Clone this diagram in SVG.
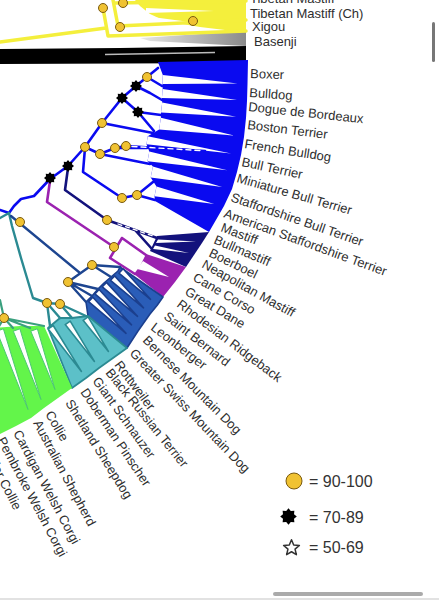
<svg xmlns="http://www.w3.org/2000/svg" width="439" height="600" viewBox="0 0 439 600">
<defs>
<style>
.lbl{font-family:"Liberation Sans",Arial,sans-serif;font-size:13px;fill:#2e2e2e}
.leg{font-family:"Liberation Sans",Arial,sans-serif;font-size:16px;fill:#333}
.ln{fill:none;stroke-linejoin:round;stroke-linecap:round}
.yl{stroke:#f4ef3c;stroke-width:3.5}
.bl{stroke:#0a0af0;stroke-width:2.6}
.nv{stroke:#13127c;stroke-width:2.6}
.pu{stroke:#9b22b0;stroke-width:2.6}
.mb{stroke:#1d4590;stroke-width:2.4}
.tl{stroke:#2b8a92;stroke-width:2.4}
.gl{stroke:#3aa07e;stroke-width:2.2}
.fbl{fill:#0a0af0}
.fnv{fill:#13127c}
.fpu{fill:#9b22b0}
.fmb{fill:#2a5db8;stroke:#1b3f8e;stroke-width:1.6;stroke-linejoin:round}
.ftl{fill:#5cc0c8;stroke:#2b8a92;stroke-width:1.8;stroke-linejoin:round}
.fgr{fill:#63f54a}
.wh{fill:#fff}
.wmb{fill:#fff;stroke:#1b3f8e;stroke-width:1.6;stroke-linejoin:round}
.wtl{fill:#fff;stroke:#2b8a92;stroke-width:1.6;stroke-linejoin:round}
.wgr{fill:#fff;stroke:#4cc870;stroke-width:1;stroke-linejoin:round}
.dot{fill:#f0c232;stroke:#7a5a10;stroke-width:1}
</style>
<linearGradient id="gg" x1="0" x2="1" y1="0" y2="0">
<stop offset="0" stop-color="#e8e8e8"/><stop offset="1" stop-color="#8a8a8a"/>
</linearGradient>
<polygon id="burst" points="1,0 0.665,0.276 0.707,0.707 0.276,0.665 0,1 -0.276,0.665 -0.707,0.707 -0.665,0.276 -1,0 -0.665,-0.276 -0.707,-0.707 -0.276,-0.665 0,-1 0.276,-0.665 0.707,-0.707 0.665,-0.276"/>
</defs>
<rect width="439" height="600" fill="#fff"/>

<g id="clade-yellow">
<polygon fill="#f4ef3c" points="135,0 246,0 246,32 225,30 200,27 165,21 150,14 140,6"/>
<polygon class="wh" points="146,8 146,13 214,11"/>
<polygon class="wh" points="152,17 158,24 190,22"/>
</g>
<g id="tip-basenji">
<polygon fill="url(#gg)" points="140,38 246,31 246,46 150,41"/>
<text class="lbl" x="254" y="46">Basenji</text>
</g>
<g id="clade-black">
<polygon fill="#000" points="0,49 120,48 246,46 246,63 0,64"/>
<line x1="105" y1="54.5" x2="215" y2="52.5" stroke="#bbb" stroke-width="1.5"/>
</g>

<g id="clade-blue">
<polygon class="fbl" points="158,62 248,60 247.5,84 247,101 246,118 244,137 241,155 237,172 232,189 224,206 209,232 155,201 154.5,196.3 156.5,186.5 150.7,177.4 152.9,166.6 147.5,161.2 149.3,151.4 146.5,144.2 147.7,136.3 159.1,129.6 160.9,117.8 161,112.6 162.2,102.6 161.9,98.1 162.7,89.1 162.4,84.1 162.8,75.1"/>
<polygon class="wh" points="162.8,75.1 162.4,84.1 237.5,83.5"/>
<polygon class="wh" points="162.7,89.1 161.9,98.1 237,100.1"/>
<polygon class="wh" points="162.2,102.6 161,112.6 236.1,116.8"/>
<polygon class="wh" points="160.9,117.8 159.1,129.6 234.1,135.4"/>
<polygon class="wh" points="147.7,136.3 146.5,144.2 231.1,153.4"/>
<polygon class="wh" points="149.3,151.4 147.5,161.2 227.2,170.3"/>
<polygon class="wh" points="152.9,166.6 150.7,177.4 222.2,186.9"/>
<polygon class="wh" points="156.5,186.5 154.5,196.3 214.2,203.9"/>
</g>
<g id="clade-navy">
<polygon class="fnv" points="157,236 209,232 202,243 194,255 186,267 150,251"/>
<polygon class="wh" points="158,239.5 156,243 196,241.5"/>
<polygon class="wh" points="155,245.5 153,249 189,253"/>
</g>
<g id="clade-purple">
<polygon class="fpu" points="146,254 186,267 175,282 163,297 134,274 140,266"/>
<polygon class="wh" points="143,261 137,269 169,277"/>
</g>
<g id="clade-midblue">
<polygon class="fmb" points="120,267 163,297 157,305.5 150,314 144,322.5 138,331 132.5,339.5 127,348 88,316 86,302 92,296 98,289 104,283 111,277 118,271"/>
<polygon class="wmb" points="123.1,268.8 118.9,273.2 150.5,299.3"/>
<polygon class="wmb" points="114.7,275.9 110.5,280.3 143.5,307.8"/>
<polygon class="wmb" points="106.5,282.4 102.3,286.8 137.5,316.3"/>
<polygon class="wmb" points="99.1,289.5 94.9,293.9 131.5,324.8"/>
<polygon class="wmb" points="92.8,297.3 88.6,301.7 126,333.3"/>
</g>
<g id="clade-teal">
<polygon class="ftl" points="48,328 60,318 72,318 88,316 127,348 113,358 99,368 86,378 72,388"/>
<polygon class="wtl" points="88.1,316.9 83.1,320.3 108.4,351.4"/>
<polygon class="wtl" points="70.2,321.2 65.2,324.6 94.4,361.4"/>
<polygon class="wtl" points="53.2,325.5 48.2,328.9 81.4,371.4"/>
</g>
<g id="clade-green">
<polygon class="fgr" points="-20,330 -5,328 20,326 44,326 72,388 58,398 44,408 31,418 16,426 0,434 -20,443"/>
<polygon class="wgr" points="37.4,328.8 30.8,331.2 55,389.5"/>
<polygon class="wgr" points="19.9,328.8 13.3,331.2 41,399.5"/>
<polygon class="wgr" points="3.4,328.8 -3.2,331.2 28,409.5"/>
</g>

<g id="connectors">
<path class="ln yl" d="M0,42 L106,28 M103,8 L108,36 L246,31 M113,0 L118,26 L246,20 M114,3 L246,1"/>
<path class="ln bl" d="M0,210 L9,213 M9,213 L14,206 L21,199 L34,196 L50,179 L68,166 L85,147 L102,123 L122,98 L136,86 L147,77 L158,68 M147,77 L162,86 M136,86 L150,93 L162,100 M122,98 L138,112 L161,115 M138,112 L154,131 M102,123 L153,133 M85,147 L100,154 L115,148 L126,146 L205,151 M115,148 L147,148 M100,154 L150,164 M85,148 L83,172 L122,198 L137,195 L153,182 M137,195 L155,200"/>
<path class="ln" stroke="#fff" stroke-width="1.4" stroke-dasharray="5 4" d="M132,146.5 L200,150.5"/>
<path class="ln nv" d="M68,168 L65,190 L107,220 L157,238 M135,230 L152,249"/>
<path class="ln" stroke="#fff" stroke-width="1.3" stroke-dasharray="4 4" d="M118,224 L153,236"/>
<path class="ln pu" d="M50,181 L47,202 L114,247 M122,238 L110,258 M122,238 L146,255 M110,258 L135,274"/>
<path class="ln tl" d="M0,218 L9,213 M9,213 L12,226 L21,258 L33,298 L47,303 L60,304 M47,303 L50,326 M47,303 L60,318 M60,304 L72,318 M60,304 L86,316"/>
<path class="ln mb" d="M11,216 L80,273 M92,265 L68,282 M92,265 L120,267 M92,265 L111,277 M68,282 L98,289 M68,282 L92,296 M68,282 L86,302"/>
<path class="ln gl" d="M0,300 L4,318 M4,318 L44,326 M4,318 L30,328 M4,318 L13,328 M4,318 L-2,328"/>
</g>

<g id="support">
<circle class="dot" cx="103" cy="8" r="4.5"/>
<circle class="dot" cx="123" cy="3" r="4.5"/>
<circle class="dot" cx="120" cy="27" r="4.5"/>
<circle class="dot" cx="193" cy="21" r="4.5"/>
<circle class="dot" cx="147" cy="77" r="4.5"/>
<circle class="dot" cx="102" cy="123" r="4.5"/>
<circle class="dot" cx="85" cy="147" r="4.5"/>
<circle class="dot" cx="100" cy="154" r="4.5"/>
<circle class="dot" cx="115" cy="148" r="4.5"/>
<circle class="dot" cx="126" cy="146" r="4.5"/>
<circle class="dot" cx="122" cy="198" r="4.5"/>
<circle class="dot" cx="137" cy="195" r="4.5"/>
<circle class="dot" cx="107" cy="220" r="4.5"/>
<circle class="dot" cx="114" cy="247" r="4.5"/>
<circle class="dot" cx="20" cy="222" r="4.5"/>
<circle class="dot" cx="92" cy="265" r="4.5"/>
<circle class="dot" cx="68" cy="282" r="4.5"/>
<circle class="dot" cx="47" cy="303" r="4.5"/>
<circle class="dot" cx="60" cy="304" r="4.5"/>
<circle class="dot" cx="4" cy="318" r="4.5"/>
<use href="#burst" transform="translate(50,178) scale(6)"/>
<use href="#burst" transform="translate(68,166) scale(6)"/>
<use href="#burst" transform="translate(122,98) scale(6)"/>
<use href="#burst" transform="translate(136,86) scale(6)"/>
<use href="#burst" transform="translate(138,112) scale(6)"/>
</g>

<g id="labels">
<text class="lbl" x="250" y="3">Tibetan Mastiff</text>
<text class="lbl" x="250" y="18">Tibetan Mastiff (Ch)</text>
<text class="lbl" x="252" y="31">Xigou</text>
<text class="lbl" transform="translate(250,78) rotate(2)">Boxer</text>
<text class="lbl" transform="translate(249,97) rotate(4)">Bulldog</text>
<text class="lbl" transform="translate(248,111) rotate(6)">Dogue de Bordeaux</text>
<text class="lbl" transform="translate(247,129) rotate(7)">Boston Terrier</text>
<text class="lbl" transform="translate(244,148) rotate(9)">French Bulldog</text>
<text class="lbl" transform="translate(241,166) rotate(12)">Bull Terrier</text>
<text class="lbl" transform="translate(236,182) rotate(16)">Miniature Bull Terrier</text>
<text class="lbl" transform="translate(230,201) rotate(19)">Staffordshire Bull Terrier</text>
<text class="lbl" transform="translate(223,217) rotate(20)">American Staffordshire Terrier</text>
<text class="lbl" transform="translate(220,231) rotate(21)">Mastiff</text>
<text class="lbl" transform="translate(213,243) rotate(23)">Bullmastiff</text>
<text class="lbl" transform="translate(208,256) rotate(26)">Boerboel</text>
<text class="lbl" transform="translate(201,267) rotate(29)">Neapolitan Mastiff</text>
<text class="lbl" transform="translate(192,280) rotate(30)">Cane Corso</text>
<text class="lbl" transform="translate(184,294) rotate(31)">Great Dane</text>
<text class="lbl" transform="translate(176,306) rotate(37)">Rhodesian Ridgeback</text>
<text class="lbl" transform="translate(163,318) rotate(38)">Saint Bernard</text>
<text class="lbl" transform="translate(150,329) rotate(38)">Leonberger</text>
<text class="lbl" transform="translate(142,341) rotate(45)">Bernese Mountain Dog</text>
<text class="lbl" transform="translate(129,354) rotate(46)">Greater Swiss Mountain Dog</text>
<text class="lbl" transform="translate(114,365) rotate(53)">Rottweiler</text>
<text class="lbl" transform="translate(105,373) rotate(51)">Black Russian Terrier</text>
<text class="lbl" transform="translate(92,381) rotate(54)">Giant Schnauzer</text>
<text class="lbl" transform="translate(80,392) rotate(56)">Doberman Pinscher</text>
<text class="lbl" transform="translate(65,403) rotate(58)">Shetland Sheepdog</text>
<text class="lbl" transform="translate(45,414) rotate(60)">Collie</text>
<text class="lbl" transform="translate(33,423) rotate(62)">Australian Shepherd</text>
<text class="lbl" transform="translate(13,433) rotate(62)">Cardigan Welsh Corgi</text>
<text class="lbl" transform="translate(-3,440) rotate(62)">Pembroke Welsh Corgi</text>
<text class="lbl" transform="translate(-20,444) rotate(63)">Border Collie</text>
</g>

<g id="legend">
<circle class="dot" cx="294" cy="481" r="8"/>
<text class="leg" x="309" y="486.5">= 90-100</text>
<use href="#burst" transform="translate(288.5,516.5) scale(8.3)"/>
<text class="leg" x="309" y="523">= 70-89</text>
<polygon fill="#fff" stroke="#333" stroke-width="1.5" stroke-linejoin="round" transform="translate(291.5,548) scale(8.3)" vector-effect="non-scaling-stroke" points="0,-1 0.265,-0.364 0.951,-0.309 0.428,0.139 0.588,0.809 0,0.45 -0.588,0.809 -0.428,0.139 -0.951,-0.309 -0.265,-0.364"/>
<text class="leg" x="309" y="553">= 50-69</text>
</g>

<g id="frame">
<rect x="432" y="22" width="3" height="40" rx="1.5" fill="#777"/>
<rect x="273" y="592" width="150" height="4" rx="2" fill="#aaa"/>
<rect x="0" y="598" width="439" height="2" fill="#e2e2e2"/>
</g>
</svg>
